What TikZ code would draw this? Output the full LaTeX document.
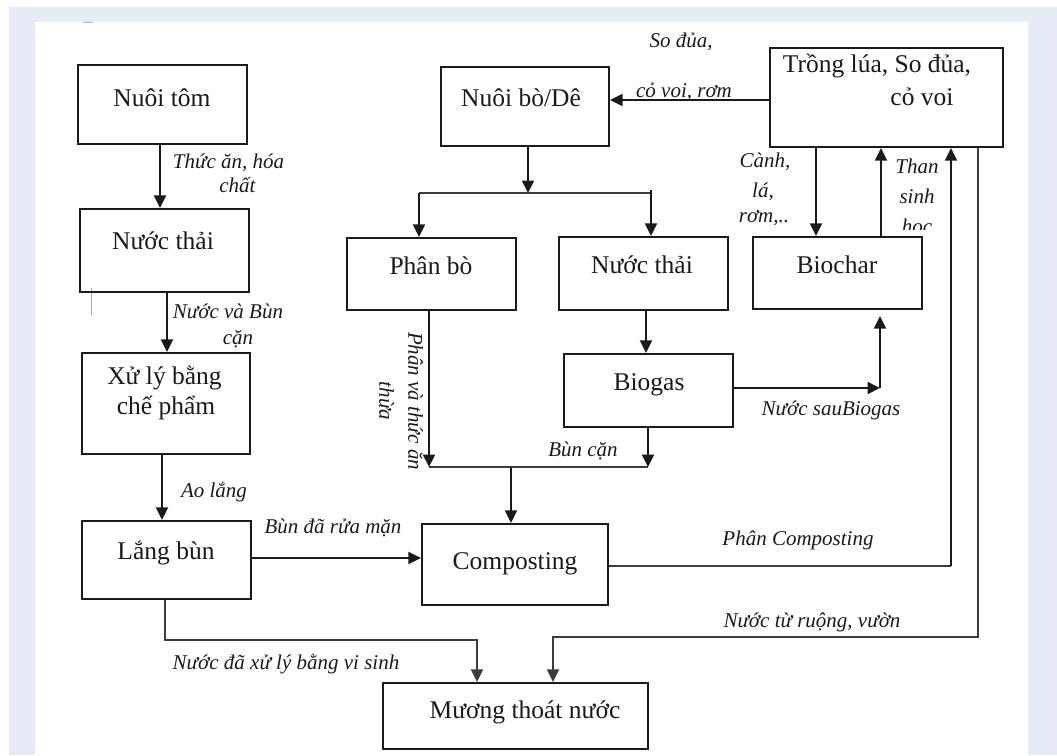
\documentclass[tikz,border=0pt]{standalone}
\usepackage{fontspec}
\setmainfont{Liberation Serif}
\usetikzlibrary{arrows.meta,fit}
\definecolor{bgblue}{HTML}{E6EBF5}
\definecolor{ink}{HTML}{1A1A1A}
\begin{document}
\begin{tikzpicture}[x=1pt,y=-1pt,
 box/.style={draw=ink,line width=2.2pt,inner sep=0pt},
 btxt/.style={font=\fontsize{25.5}{30}\selectfont,text=ink,anchor=base,inner sep=0pt},
 lbl/.style={font=\fontsize{21}{26}\selectfont\itshape,text=ink,anchor=base,inner sep=0pt},
 arr/.style={draw=ink,line width=2pt,-{Triangle[length=12.5pt,width=12pt]}},
 thinarr/.style={draw=ink!85,line width=1.3pt,-{Triangle[length=12.5pt,width=12pt]}},
 thin/.style={draw=ink!85,line width=1.3pt},
]
% background
\fill[white] (0,0) rectangle (1057,755);
\fill[bgblue] (9,7) rectangle (1057,755);
\fill[white] (35,22) rectangle (1028,755);
\useasboundingbox (0,0) rectangle (1057,755);
\draw[gray!60,line width=1pt] (83,22) -- (93,22);
\draw[gray!70,line width=0.8pt] (91,288) -- (91,315);

% boxes
\node[box,fit={(78,65)(247,144)}] (tom) {};
\node[btxt] (tomT) at (162,106) {Nuôi tôm};
\node[box,fit={(80,209)(249,292)}] (nt1) {};
\node[btxt] (nt1T) at (163,249) {Nước thải};
\node[box,fit={(82,353)(250,454)}] (xl) {};
\node[btxt] (xlT1) at (164.5,384) {Xử lý bằng};
\node[btxt] (xlT2) at (166,414) {chế phẩm};
\node[box,fit={(82,521)(251,599)}] (lb) {};
\node[btxt] (lbT) at (166,559) {Lắng bùn};
\node[box,fit={(441,67)(609,146)}] (bo) {};
\node[btxt] (boT) at (521,106) {Nuôi bò/Dê};
\node[box,fit={(770,48)(1003,147)}] (tl) {};
\node[btxt] (tlT1) at (877,72) {Trồng lúa, So đủa,};
\node[btxt] (tlT2) at (922,105) {cỏ voi};
\node[box,fit={(347,238)(516,310)}] (pb) {};
\node[btxt] (pbT) at (431,274) {Phân bò};
\node[box,fit={(559,237)(728,310)}] (nt2) {};
\node[btxt] (nt2T) at (642,273) {Nước thải};
\node[box,fit={(753,237)(922,309)}] (bc) {};
\node[btxt] (bcT) at (837,273) {Biochar};
\node[box,fit={(564,354)(733,427)}] (bg) {};
\node[btxt] (bgT) at (649,390) {Biogas};
\node[box,fit={(422,524)(608,605)}] (cp) {};
\node[btxt] (cpT) at (515,569) {Composting};
\node[box,fit={(383,683)(648,749)}] (mg) {};
\node[btxt] (mgT) at (525,718) {Mương thoát nước};

% left chain
\draw[arr] (tom.south -| 160,0) -- (nt1.north -| 160,0);
\node[lbl] (l1a) at (228.5,168) {Thức ăn, hóa};
\node[lbl] (l1b) at (237.5,192) {chất};
\draw[arr] (nt1.south -| 167,0) -- (xl.north -| 167,0);
\node[lbl] (l2a) at (228,318) {Nước và Bùn};
\node[lbl] (l2b) at (238,344) {cặn};
\draw[arr] (xl.south -| 162,0) -- (lb.north -| 162,0);
\node[lbl] (l3) at (214,497) {Ao lắng};
\draw[arr] (lb.east |- 0,558) -- (cp.west |- 0,558);
\node[lbl] (l4) at (333,533) {Bùn đã rửa mặn};
\draw[thinarr] (lb.south -| 165,0) |- (477,640) -- (mg.north -| 477,0);
\node[lbl] (l5) at (286,669) {Nước đã xử lý bằng vi sinh};

% Nuoi bo split
\coordinate (sM) at (528,193);
\coordinate (sL) at (419,193);
\coordinate (sR) at (651,193);
\draw[arr] (bo.south -| sM) -- (sM);
\draw[thin] (sL) -- (sR);
\draw[arr] (sL) -- (pb.north -| sL);
\draw[arr] (651,190) -- (nt2.north -| sR);

% Trong lua -> Nuoi bo
\draw[arr] (tl.west |- 0,100) -- (bo.east |- 0,100);
\node[lbl] (l6a) at (681,47) {So đủa,};
\node[lbl] (l6b) at (684,97) {cỏ voi, rơm};

% Trong lua <-> Biochar
\draw[arr] (tl.south -| 816,0) -- (bc.north -| 816,0);
\node[lbl] (l7a) at (765,167) {Cành,};
\node[lbl] (l7b) at (763,197) {lá,};
\node[lbl] (l7c) at (764,222) {rơm,..};
\draw[arr] (bc.north -| 881,0) -- (tl.south -| 881,0);
\node[lbl] (l8a) at (917,173) {Than};
\node[lbl] (l8b) at (917,203) {sinh};
\begin{scope}
\clip (885,150) rectangle (960,229);
\node[lbl] (l8c) at (917,233) {học};
\end{scope}

% Biogas
\draw[arr] (nt2.south -| 646,0) -- (bg.north -| 646,0);
\coordinate (bgc) at (880,388);
\draw[arr] (bg.east |- bgc) -- (bgc);
\draw[arr,shorten >=6pt] (bgc) -- (bc.south -| bgc);
\node[lbl] (l9) at (831,415) {Nước sauBiogas};

% to composting
\coordinate (jL) at (429,467);
\coordinate (jR) at (648,467);
\coordinate (jM) at (511,467);
\draw[arr] (pb.south -| jL) -- (jL);
\draw[thin] (jL) -- (jR);
\draw[arr] (bg.south -| jR) -- (jR);
\node[lbl,font=\fontsize{21}{29}\selectfont\itshape,anchor=center,rotate=-90,align=center] (l10) at (401,401) {Phân và thức ăn\\thừa};
\node[lbl] (l11) at (583,456) {Bùn cặn};
\draw[arr] (jM) -- (cp.north -| jM);

% composting -> trong lua
\coordinate (cR) at (951,566);
\draw[thin] (cp.east |- cR) -- (cR);
\draw[arr] (cR) -- (tl.south -| cR);
\node[lbl] (l12) at (798,545) {Phân Composting};

% trong lua -> muong
\draw[thinarr] (tl.south -| 978,0) |- (553,637) -- (mg.north -| 553,0);
\node[lbl] (l13) at (812,627) {Nước từ ruộng, vườn};
\end{tikzpicture}
\end{document}
